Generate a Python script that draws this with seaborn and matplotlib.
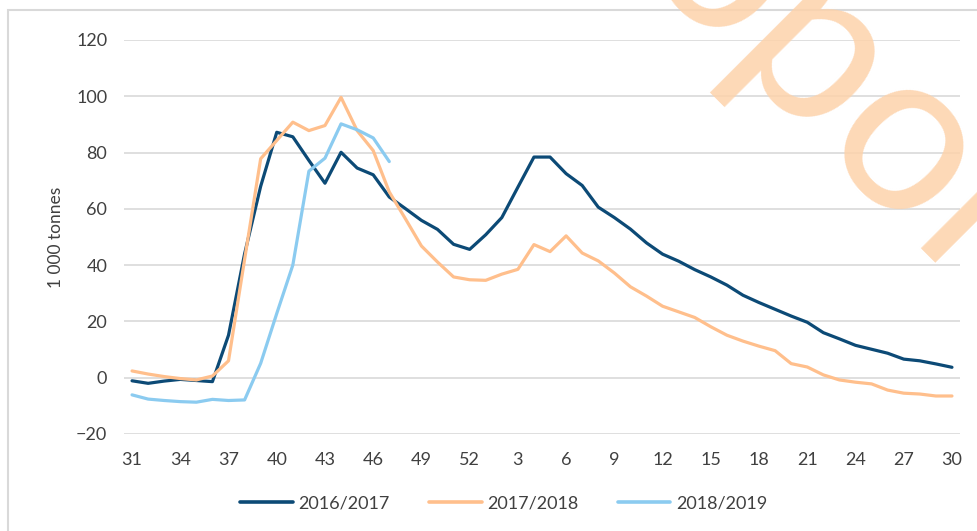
import numpy as np
import pandas as pd
import seaborn as sns
import matplotlib.pyplot as plt
from matplotlib.patches import Rectangle

# uker fra uke 31 til uke 30 neste år
uker = list(range(31, 53)) + list(range(1, 31))

s_2016_2017 = [-1.1, -2.0, -1.2, -0.6, -1.0, -1.4, 15.1, 44.0, 68.0, 87.2,
               85.6, 77.2, 69.1, 80.1, 74.5, 72.1, 64.2, 60.1, 55.9, 52.7,
               47.4, 45.6, 50.8, 56.9, 67.7, 78.4, 78.4, 72.5, 68.3, 60.6,
               56.9, 52.8, 47.9, 43.9, 41.4, 38.4, 35.8, 32.9, 29.3, 26.7,
               24.3, 21.9, 19.7, 16.0, 13.8, 11.5, 10.1, 8.7, 6.6, 6.0,
               4.9, 3.7]
s_2017_2018 = [2.4, 1.3, 0.4, -0.3, -0.8, 0.6, 6.0, 42.0, 77.8, 84.3,
               90.8, 87.8, 89.6, 99.6, 87.8, 80.7, 66.0, 56.5, 46.8, 41.1,
               35.8, 34.8, 34.6, 36.8, 38.5, 47.3, 44.8, 50.4, 44.3, 41.5,
               37.2, 32.3, 29.0, 25.4, 23.4, 21.4, 18.1, 15.1, 13.0, 11.2,
               9.6, 5.0, 3.8, 1.0, -0.8, -1.6, -2.2, -4.4, -5.5, -5.8,
               -6.5, -6.5]
s_2018_2019 = [-6.1, -7.6, -8.1, -8.5, -8.7, -7.7, -8.1, -7.9, 5.1, 22.8,
               40.0, 73.4, 78.0, 90.2, 88.1, 85.2, 76.8]

sesonger = ['2016/2017', '2017/2018', '2018/2019']
farger = ['#0C4A76', '#FFBF8C', '#8BCBF0']

# lang tabell for seaborn
deler = []
for navn, verdier in zip(sesonger, [s_2016_2017, s_2017_2018, s_2018_2019]):
    deler.append(pd.DataFrame({'pos': np.arange(len(verdier)),
                               'verdi': verdier, 'sesong': navn}))
df = pd.concat(deler, ignore_index=True)

sns.set_style('white')
plt.rcParams['font.family'] = ['Lato', 'DejaVu Sans']

fig = plt.figure(figsize=(9.78, 5.31), dpi=100)
ax = fig.add_axes([0.1268, 0.1827, 0.8548, 0.742])

sns.lineplot(data=df, x='pos', y='verdi', hue='sesong', palette=farger,
             hue_order=sesonger, linewidth=2.3, sort=False, ax=ax, zorder=3)

ax.set_xlim(-0.5, len(uker) - 0.5)
ax.set_ylim(-20, 120)
ax.set_yticks(range(-20, 121, 20))
ax.set_yticklabels(['\u221220' if v < 0 else str(v) for v in range(-20, 121, 20)])
pos = list(range(0, len(uker), 3))
ax.set_xticks(pos)
ax.set_xticklabels([str(uker[p]) for p in pos])
ax.grid(axis='y', color='#D9D9D9', linewidth=1.2, zorder=0)
ax.grid(axis='x', visible=False)
for s in ax.spines.values():
    s.set_visible(False)
ax.tick_params(axis='both', length=0, labelsize=13, colors='#404040')
ax.tick_params(axis='y', pad=12)
ax.tick_params(axis='x', pad=13)
ax.set_xlabel('')
ax.set_ylabel('1 000 tonnes', fontsize=12.5, color='#404040', labelpad=9)

leg = ax.legend(loc='center', bbox_to_anchor=(0.515, 0.0527),
                bbox_transform=fig.transFigure, ncol=3, frameon=False,
                fontsize=13, handlelength=2.9, handletextpad=0.3,
                columnspacing=2.2)
for t in leg.get_texts():
    t.set_color('#404040')
for l in leg.get_lines():
    l.set_linewidth(2.6)

# vannmerke
fig.text(0.645, 1.06, 'opol', fontsize=165, rotation=-45,
         rotation_mode='anchor', ha='left', va='baseline',
         color='#FDD2AA', alpha=0.85, zorder=5)

# ramme rundt figuren
fig.patches.append(Rectangle((0.0082, -0.05), 1.1, 1.031, transform=fig.transFigure,
                             fill=False, edgecolor='#D9D9D9', linewidth=1.5))

plt.savefig('out.png', dpi=100)
